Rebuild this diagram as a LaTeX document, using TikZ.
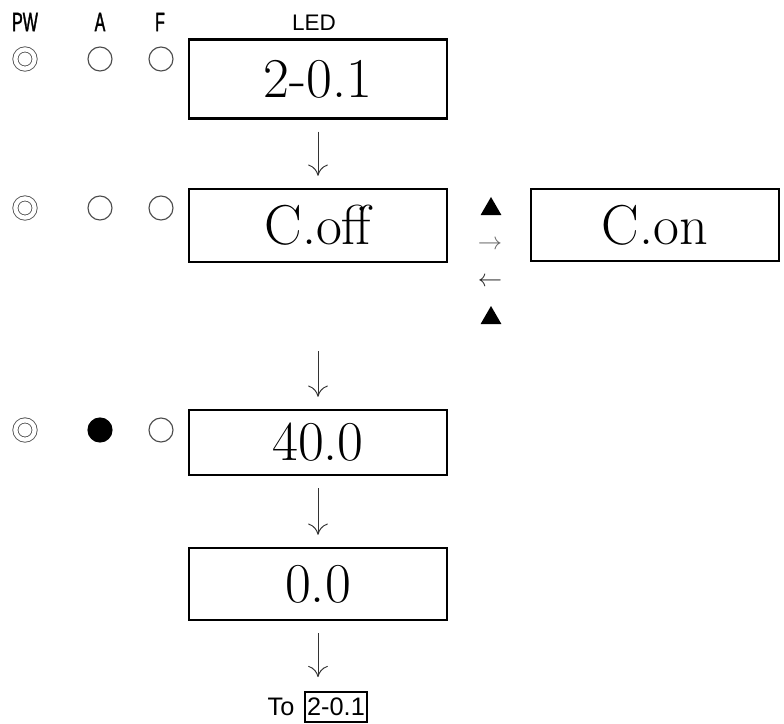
\documentclass[tikz,border=0pt]{standalone}
\usepackage{fontspec}
\newfontfamily\narrowsans[FakeStretch=0.6,FakeBold=1.2]{Liberation Sans}
\newfontfamily\plainsans{Liberation Sans}
\usetikzlibrary{arrows.meta,positioning,shapes.geometric}
\begin{document}
\begin{tikzpicture}[x=0.025cm, y=-0.025cm,
    ledbox/.style={draw, line width=1.7pt, minimum width=6.45cm, inner sep=0pt, font=\fontsize{40}{42}\selectfont},
    lamp/.style={circle, draw=black!70, line width=0.8pt, minimum size=0.6cm, inner sep=0pt},
    pwlamp/.style={lamp, double, double distance=3pt, line width=0.6pt, minimum size=0.48cm},
    onlamp/.style={lamp, fill=black, draw=black},
    head/.style={font=\narrowsans\fontsize{19}{21}\selectfont},
    key/.style={regular polygon, regular polygon sides=3, fill, inner sep=0pt, minimum size=0.6cm},
    flow/.style={-{Computer Modern Rightarrow[length=8pt,width=14pt]}, black!80, line width=0.7pt, shorten <=0.3cm, shorten >=0.3cm}]
        \useasboundingbox (0,0) rectangle (784,724);

        \node[head] (pw) at (25,22) {PW};
        \node[head] (a) at (100,22) {A};
        \node[head] (f) at (160,22) {F};
        \node[font=\plainsans\fontsize{16}{18}\selectfont] (led) at (314,23) {LED};

        \node[pwlamp] (pw1) at (25,59) {};
        \node[lamp] (a1) at (100,59) {};
        \node[lamp] (f1) at (161,59) {};
        \node[pwlamp] (pw2) at (25,208) {};
        \node[lamp] (a2) at (100,208) {};
        \node[lamp] (f2) at (161,208) {};
        \node[pwlamp] (pw3) at (25,430) {};
        \node[onlamp] (a3) at (100,430) {};
        \node[lamp] (f3) at (161,430) {};

        \node[ledbox, minimum height=1.975cm] (b1) at (318,79) {2-0.1};
        \node[ledbox, minimum height=1.825cm] (b2) at (318,225.5) {C.off};
        \node[ledbox, minimum height=1.8cm, minimum width=6.2cm] (con) at (655,225) {C.on};
        \node[ledbox, minimum height=1.625cm] (b3) at (318,442.5) {40.0};
        \node[ledbox, minimum height=1.8cm] (b4) at (318,584) {0.0};

        \node[key] (up1) at (491,209) {};
        \node[black!60, font=\fontsize{18}{20}\selectfont] (right) at (490,245) {$\rightarrow$};
        \node[black!85, font=\fontsize{18}{20}\selectfont] (left) at (490,282) {$\leftarrow$};
        \node[key] (up2) at (491,318) {};

        \node[font=\plainsans\fontsize{18}{20}\selectfont] (tolabel) at (281,707) {To};
        \node[draw, line width=1.2pt, inner xsep=1.5pt, inner ysep=0pt, minimum height=0.75cm, font=\plainsans\fontsize{18}{20}\selectfont] (back) at (336,707) {2-0.1};

        \draw[flow] (b1) -- (b2);
        \draw[flow, shorten <=2.2cm] (b2) -- (b3);
        \draw[flow] (b3) -- (b4);
        \draw[flow, shorten >=0.35cm] (b4.south) -- (b4.south |- back.north);
    \end{tikzpicture}
\end{document}
